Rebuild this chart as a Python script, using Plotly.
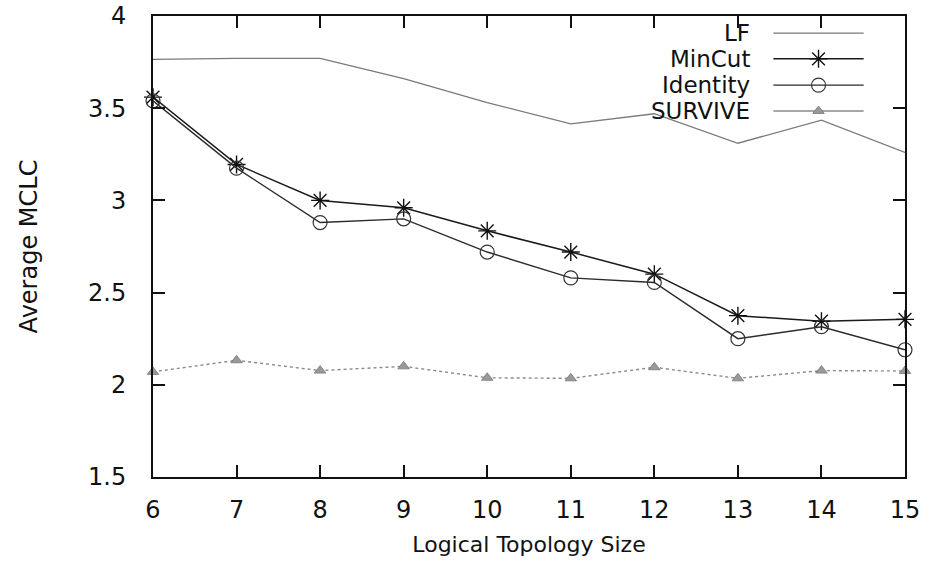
import plotly.graph_objects as go

x_sizes = [6, 7, 8, 9, 10, 11, 12, 13, 14, 15]
lf = [3.765, 3.77, 3.77, 3.66, 3.53, 3.415, 3.47, 3.31, 3.435, 3.26]
mincut = [3.56, 3.195, 3.0, 2.96, 2.835, 2.72, 2.6, 2.375, 2.345, 2.355]
identity = [3.54, 3.175, 2.88, 2.9, 2.72, 2.58, 2.555, 2.25, 2.315, 2.19]
survive = [2.07, 2.133, 2.077, 2.1, 2.038, 2.035, 2.095, 2.035, 2.077, 2.075]

series_names = ["LF", "MinCut", "Identity", "SURVIVE"]
x_ticks = [6, 7, 8, 9, 10, 11, 12, 13, 14, 15]
y_ticks = [1.5, 2, 2.5, 3, 3.5, 4]
y_tick_text = ["1.5", "2", "2.5", "3", "3.5", "4"]

FONT = "DejaVu Sans"
styles = {
    "LF": dict(line=dict(color="#7a7a7a", width=1.3), mode="lines", marker=dict()),
    "MinCut": dict(line=dict(color="#1a1a1a", width=1.5), mode="lines+markers",
                   marker=dict(symbol="asterisk-open", size=15, color="#111",
                               line=dict(color="#111", width=1.4))),
    "Identity": dict(line=dict(color="#2a2a2a", width=1.4), mode="lines+markers",
                     marker=dict(symbol="circle-open", size=14, color="#333",
                                 line=dict(color="#333", width=1.2))),
    "SURVIVE": dict(line=dict(color="#8a8a8a", width=1.4, dash="dot"), mode="lines+markers",
                    marker=dict(symbol="triangle-up", size=10, color="#999",
                                line=dict(color="#777", width=0.8))),
}

fig = go.Figure()
for name, ys in zip(series_names, [lf, mincut, identity, survive]):
    st = styles[name]
    fig.add_trace(go.Scatter(x=x_sizes, y=ys, name=name, mode=st["mode"],
                             line=st["line"], marker=st["marker"],
                             showlegend=False, cliponaxis=False))

# custom legend: text on the left, sample on the right (gnuplot style)
leg_y = [0.963, 0.907, 0.850, 0.794]
for name, ly in zip(series_names, leg_y):
    st = styles[name]
    fig.add_trace(go.Scatter(x=[0.825, 0.945], y=[ly, ly], mode="lines",
                             line=dict(color=st["line"]["color"], width=st["line"]["width"]),
                             xaxis="x2", yaxis="y2", showlegend=False, hoverinfo="skip"))
    if name != "LF":
        fig.add_trace(go.Scatter(x=[0.885], y=[ly], mode="markers", marker=st["marker"],
                                 xaxis="x2", yaxis="y2", showlegend=False, hoverinfo="skip"))
    fig.add_annotation(x=0.797, y=ly, xref="x2", yref="y2", text=name, showarrow=False,
                       xanchor="right", yanchor="middle",
                       font=dict(family=FONT, size=23, color="#111"))

axis_common = dict(showgrid=False, zeroline=False, showline=True, linecolor="#111",
                   linewidth=2, mirror="ticks", ticks="inside", ticklen=12,
                   tickwidth=1.5, tickcolor="#111", automargin=False,
                   ticklabeloverflow="allow",
                   tickfont=dict(family=FONT, size=24, color="#111"))

fig.update_layout(
    width=933, height=565,
    margin=dict(l=153, r=28, t=16, b=88, autoexpand=False),
    paper_bgcolor="white", plot_bgcolor="white",
    xaxis=dict(range=[6, 15], tickvals=x_ticks, ticklabelstandoff=10,
               title=dict(text="Logical Topology Size", standoff=14,
                          font=dict(family=FONT, size=22, color="#111")),
               **axis_common),
    yaxis=dict(range=[1.5, 4], tickvals=y_ticks, ticktext=y_tick_text, ticklabelstandoff=20,
               title=dict(text="Average MCLC", standoff=44,
                          font=dict(family=FONT, size=24, color="#111")),
               **axis_common),
    xaxis2=dict(range=[0, 1], overlaying="x", visible=False, fixedrange=True),
    yaxis2=dict(range=[0, 1], overlaying="y", visible=False, fixedrange=True),
    showlegend=False,
)

# remove the browser's default 8px page margin so the figure fills the window
fig.write_html("out.html", config={"displayModeBar": False},
               post_script="document.body.style.margin='0';")
